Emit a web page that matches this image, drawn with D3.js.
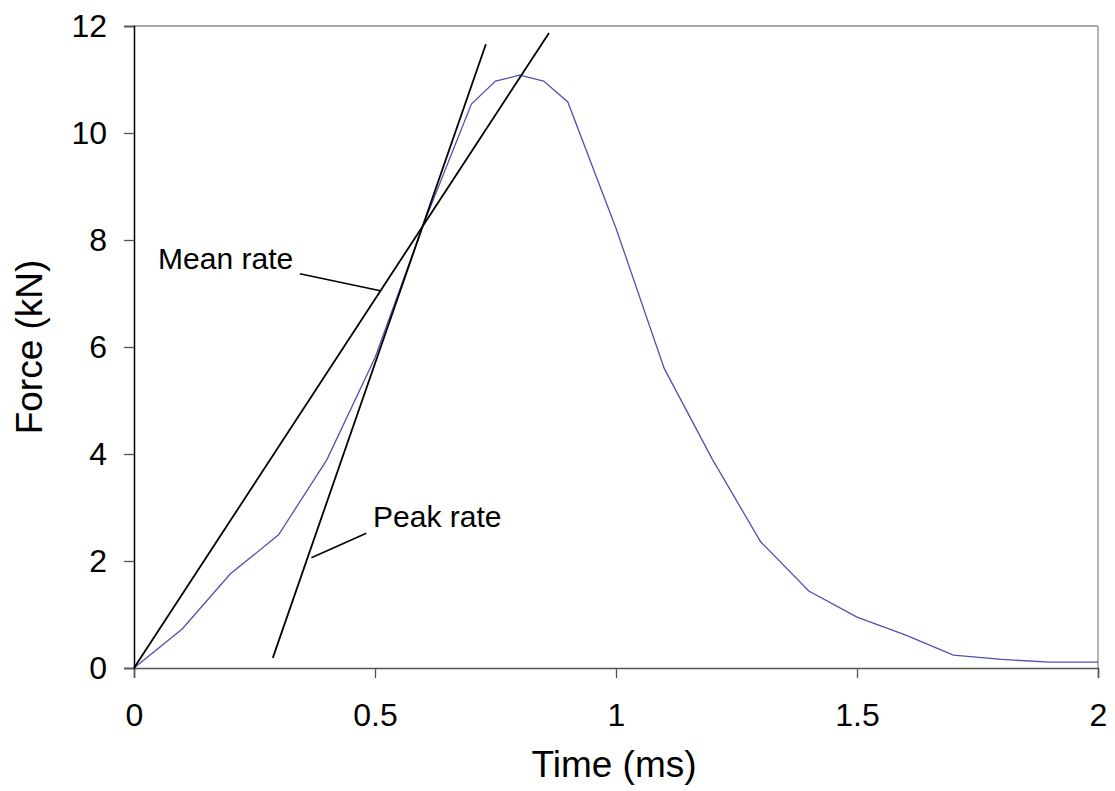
<!DOCTYPE html>
<html>
<head>
<meta charset="utf-8">
<script src="https://cdn.jsdelivr.net/npm/d3@7"></script>
<style>
  body { margin: 0; background: #fff; }
  text { font-family: Arial, "Liberation Sans", sans-serif; }
</style>
</head>
<body>
<svg id="chart" width="1115" height="791"></svg>
<script>
// force curve (time in ms, force in kN)
var time  = [0, 0.1, 0.2, 0.3, 0.4, 0.5, 0.6, 0.7, 0.75, 0.8, 0.85, 0.9, 1.0, 1.1, 1.2, 1.3, 1.4, 1.5, 1.6, 1.7, 1.8, 1.9, 2.0];
var force = [0, 0.73, 1.76, 2.49, 3.89, 5.8, 8.28, 10.54, 10.97, 11.08, 10.97, 10.58, 8.22, 5.6, 3.9, 2.36, 1.44, 0.95, 0.62, 0.24, 0.16, 0.11, 0.11];

// rate lines [x, y] start and end
var meanRate = [[0, 0], [0.861, 11.87]];
var peakRate = [[0.288, 0.19], [0.730, 11.66]];

var xTicks = [0, 0.5, 1, 1.5, 2];
var yTicks = [0, 2, 4, 6, 8, 10, 12];

var svg = d3.select("#chart");
var margin = { left: 134, right: 17, top: 26, bottom: 123 };
var width = 1115 - margin.left - margin.right;
var height = 791 - margin.top - margin.bottom;

var x = d3.scaleLinear().domain([0, 2]).range([0, width]);
var y = d3.scaleLinear().domain([0, 12]).range([height, 0]);

var g = svg.append("g").attr("transform", "translate(" + margin.left + "," + margin.top + ")");

// frame top + right
g.append("line").attr("x1", 0).attr("y1", 0).attr("x2", width).attr("y2", 0).style("stroke", "#8c8c8c").style("stroke-width", 1.3);
g.append("line").attr("x1", width).attr("y1", 0).attr("x2", width).attr("y2", height).style("stroke", "#8c8c8c").style("stroke-width", 1.3);

/*************************** axes ***************************/

var xAxis = g.append("g").attr("transform", "translate(0," + height + ")")
  .call(d3.axisBottom(x).tickValues(xTicks).tickSize(10).tickPadding(25).tickFormat(d3.format("")));
xAxis.select(".domain").style("stroke", "#555").style("stroke-width", 1.5);
xAxis.selectAll(".tick line").style("stroke", "#555").style("stroke-width", 1.3);
xAxis.selectAll(".tick text").style("font-size", "32px").style("fill", "#000").attr("font-family", null);

var yAxis = g.append("g")
  .call(d3.axisLeft(y).tickValues(yTicks).tickSize(10).tickPadding(17));
yAxis.select(".domain").style("stroke", "#000").style("stroke-width", 1.5);
yAxis.selectAll(".tick line").style("stroke", "#555").style("stroke-width", 1.3);
yAxis.selectAll(".tick text").style("font-size", "32px").style("fill", "#000").attr("font-family", null);

/*************************** data ***************************/

var line = d3.line().x(function(d, i){ return x(time[i]); }).y(function(d){ return y(d); });

g.append("path").datum(force)
  .attr("d", line)
  .style("fill", "none").style("stroke", "#5050b4").style("stroke-width", 1.3);

var rateLine = d3.line().x(function(d){ return x(d[0]); }).y(function(d){ return y(d[1]); });

g.append("path").datum(meanRate).attr("d", rateLine).style("fill", "none").style("stroke", "#000").style("stroke-width", 1.8);
g.append("path").datum(peakRate).attr("d", rateLine).style("fill", "none").style("stroke", "#000").style("stroke-width", 1.8);

/*************************** labels ***************************/

// Mean rate leader
g.append("line").attr("x1", x(0.344)).attr("y1", y(7.37)).attr("x2", x(0.511)).attr("y2", y(7.05)).style("stroke", "#000").style("stroke-width", 1.6);
g.append("text").attr("x", x(0.05)).attr("y", y(7.5) + 2).text("Mean rate").style("font-size", "30px");

// Peak rate leader
g.append("line").attr("x1", x(0.482)).attr("y1", y(2.52)).attr("x2", x(0.368)).attr("y2", y(2.06)).style("stroke", "#000").style("stroke-width", 1.6);
g.append("text").attr("x", x(0.496)).attr("y", y(2.6) - 2).text("Peak rate").style("font-size", "30px");

svg.append("text").attr("x", margin.left + width / 2 - 2).attr("y", 777)
  .attr("text-anchor", "middle").style("font-size", "37px").text("Time (ms)");

svg.append("text").attr("transform", "translate(42," + (margin.top + height / 2) + ") rotate(-90)")
  .attr("text-anchor", "middle").style("font-size", "37px").text("Force (kN)");
</script>
</body>
</html>
